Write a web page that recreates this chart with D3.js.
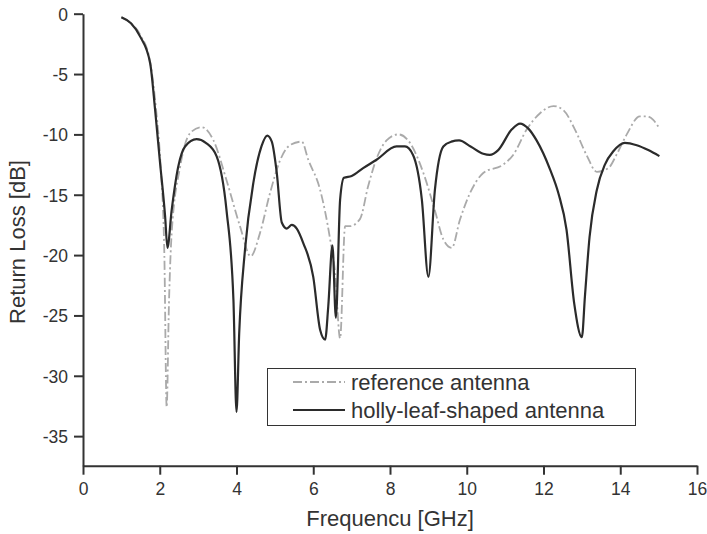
<!doctype html>
<html>
<head>
<meta charset="UTF-8">
<script src="https://d3js.org/d3.v7.min.js"></script>
<style>
  body { margin: 0; background: #fff; }
  svg { font-family: "Liberation Sans", Arial, sans-serif; }
</style>
</head>
<body>
<script>
// series: [frequency GHz, return loss dB]
const holly = [
  [1.0, -0.3], [1.25, -0.8], [1.49, -1.9], [1.75, -4.1], [1.88, -8.0], [2.0, -12.1],
  [2.14, -16.8], [2.2, -19.4], [2.31, -16.3], [2.48, -12.7], [2.66, -11.0], [2.96, -10.4],
  [3.2, -10.7], [3.48, -11.8], [3.74, -16.3], [3.92, -23.7], [4.0, -33.0], [4.07, -26.5],
  [4.22, -19.6], [4.44, -14.0], [4.65, -11.0], [4.8, -10.1], [4.92, -10.6], [5.05, -13.2],
  [5.18, -17.3], [5.31, -17.8], [5.44, -17.5], [5.57, -17.8], [5.74, -19.0], [6.0, -21.8],
  [6.18, -26.2], [6.31, -27.0], [6.39, -24.3], [6.5, -19.2], [6.59, -25.2], [6.7, -15.4],
  [6.8, -13.6], [7.0, -13.45], [7.3, -12.8], [7.65, -12.1], [8.17, -11.0], [8.39, -11.0],
  [8.6, -11.7], [8.83, -15.4], [9.0, -21.8], [9.17, -14.6], [9.39, -11.0], [9.6, -10.6],
  [9.8, -10.5], [10.1, -11.0], [10.43, -11.6], [10.6, -11.7], [10.82, -11.3], [11.17, -9.6],
  [11.39, -9.1], [11.6, -9.5], [11.82, -10.5], [12.17, -12.9], [12.39, -14.9], [12.6, -17.9],
  [12.8, -24.0], [13.0, -26.8], [13.08, -23.4], [13.2, -18.5], [13.39, -14.6], [13.6, -12.5],
  [13.82, -11.4], [14.12, -10.7], [14.43, -10.9], [14.73, -11.3], [15.02, -11.8]
];

const reference = [
  [1.0, -0.3], [1.25, -0.8], [1.5, -1.8], [1.75, -4.0], [1.9, -7.8], [2.02, -12.5],
  [2.12, -20.0], [2.18, -32.6], [2.24, -24.0], [2.31, -18.2], [2.53, -12.7], [2.79, -9.9],
  [3.09, -9.4], [3.4, -10.5], [3.74, -13.8], [4.09, -17.6], [4.37, -20.1], [4.61, -18.2],
  [4.87, -14.9], [5.13, -12.2], [5.39, -10.9], [5.7, -10.6], [5.87, -12.1], [6.18, -14.6],
  [6.44, -18.7], [6.57, -21.5], [6.7, -26.9], [6.83, -17.6], [6.96, -17.6], [7.22, -17.0],
  [7.43, -14.3], [7.65, -12.0], [7.91, -10.5], [8.22, -10.0], [8.52, -10.7], [8.87, -13.2],
  [9.17, -16.3], [9.39, -18.7], [9.61, -19.4], [9.82, -17.1], [10.08, -14.9], [10.43, -13.2],
  [10.95, -12.5], [11.21, -11.7], [11.56, -9.6], [11.91, -8.25], [12.26, -7.65], [12.52, -8.0],
  [12.82, -9.6], [13.12, -11.7], [13.39, -13.1], [13.69, -12.8], [13.9, -11.7], [14.17, -10.0],
  [14.51, -8.5], [14.69, -8.5], [14.86, -8.8], [15.02, -9.5]
];

const xTicks = [0, 2, 4, 6, 8, 10, 12, 14, 16];
const yTicks = [0, -5, -10, -15, -20, -25, -30, -35];
const legendLabels = ["reference antenna", "holly-leaf-shaped antenna"];

const W = 707, H = 534;
const margin = {top: 13.7, right: 10, bottom: 68.3, left: 83};

const svg = d3.select("body").append("svg")
    .attr("width", W)
    .attr("height", H);

const x = d3.scaleLinear().domain([0, 16]).range([margin.left, 697]);
const y = d3.scaleLinear().domain([-37.45, 0]).range([465.7, margin.top]);

const axisColor = "#333";
// plain hyphen for negatives, like the original
const plain = function(d){ return String(d); };

// x axis
const gx = svg.append("g")
    .attr("transform", "translate(0," + y(-37.45) + ")")
    .call(d3.axisBottom(x).tickValues(xTicks).tickFormat(plain).tickSize(9).tickPadding(8).tickSizeOuter(0));
// y axis
const gy = svg.append("g")
    .attr("transform", "translate(" + x(0) + ",0)")
    .call(d3.axisLeft(y).tickValues(yTicks).tickFormat(plain).tickSize(9).tickPadding(6).tickSizeOuter(0));

[gx, gy].forEach(function(g){
  g.select(".domain").attr("stroke", axisColor).attr("stroke-width", 2);
  g.selectAll(".tick line").attr("stroke", axisColor).attr("stroke-width", 2);
  g.selectAll(".tick text")
    .attr("fill", axisColor)
    .style("font-size", "17.5px")
    .style("font-family", "'Liberation Sans', Arial, sans-serif");
});
gy.selectAll(".tick text").attr("dy", "0.36em");

// axis titles
svg.append("text")
    .attr("x", 390)
    .attr("y", 526)
    .attr("text-anchor", "middle")
    .attr("fill", axisColor)
    .style("font-size", "22px")
    .text("Frequencu [GHz]");

svg.append("text")
    .attr("transform", "translate(25,242) rotate(-90)")
    .attr("text-anchor", "middle")
    .attr("fill", axisColor)
    .style("font-size", "22px")
    .text("Return Loss [dB]");

const line = d3.line()
    .x(function(d){ return x(d[0]); })
    .y(function(d){ return y(d[1]); })
    .curve(d3.curveMonotoneX);

svg.append("path")
    .datum(reference)
    .attr("fill", "none")
    .attr("stroke", "#aaaaaa")
    .attr("stroke-width", 1.8)
    .attr("stroke-dasharray", "9,3,2,3")
    .attr("d", line);

svg.append("path")
    .datum(holly)
    .attr("fill", "none")
    .attr("stroke", "#2b2b2b")
    .attr("stroke-width", 2.2)
    .attr("stroke-linejoin", "round")
    .attr("d", line);

// legend
const lg = svg.append("g");
lg.append("rect")
    .attr("x", 267.5).attr("y", 368.5)
    .attr("width", 368).attr("height", 57)
    .attr("fill", "#fff")
    .attr("stroke", "#333")
    .attr("stroke-width", 1);

const styles = [
  {stroke: "#aaaaaa", width: 1.8, dash: "9,3,2,3"},
  {stroke: "#2b2b2b", width: 2.2, dash: null}
];
legendLabels.forEach(function(lab, i){
  const yy = 382 + i * 28;
  lg.append("line")
    .attr("x1", 293).attr("x2", 345)
    .attr("y1", yy).attr("y2", yy)
    .attr("stroke", styles[i].stroke)
    .attr("stroke-width", styles[i].width)
    .attr("stroke-dasharray", styles[i].dash);
  lg.append("text")
    .attr("x", 351).attr("y", yy)
    .attr("dy", "0.35em")
    .attr("fill", axisColor)
    .style("font-size", "22px")
    .text(lab);
});
</script>
</body>
</html>
